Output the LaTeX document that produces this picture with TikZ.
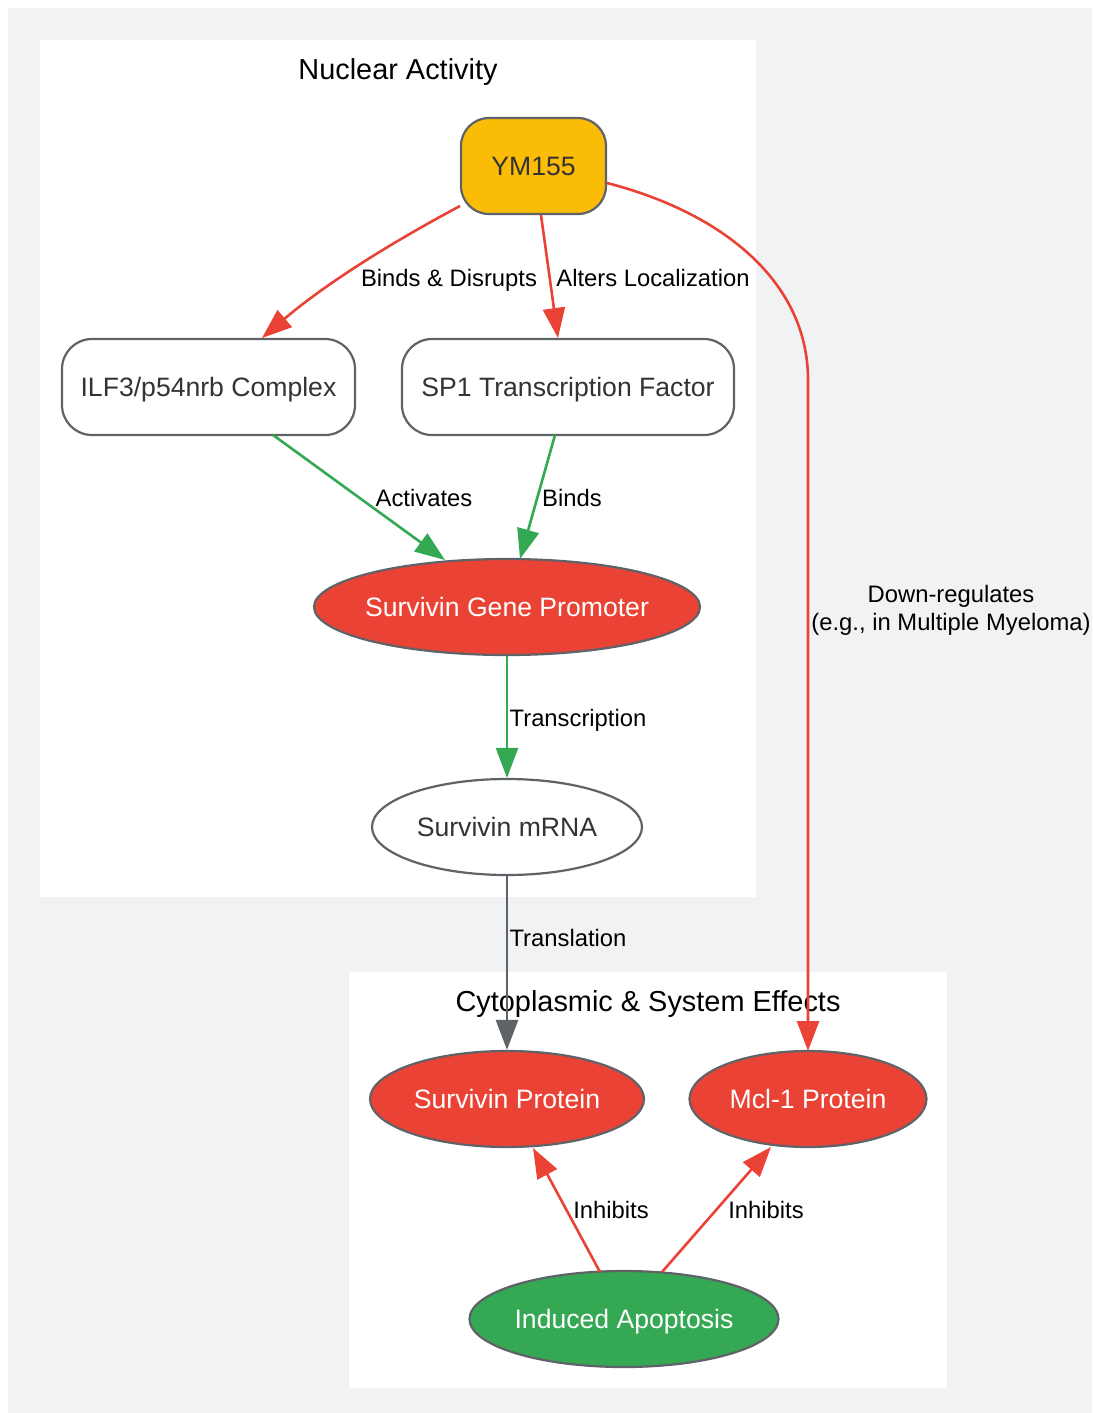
\documentclass[tikz,border=0pt]{standalone}
\usepackage{fontspec}
\setmainfont{Liberation Sans}
\usetikzlibrary{arrows.meta,shapes.geometric}
\definecolor{gred}{HTML}{EA4335}
\definecolor{ggreen}{HTML}{34A853}
\definecolor{gyellow}{HTML}{FBBC05}
\definecolor{ggray}{HTML}{5F6368}
\definecolor{bggray}{HTML}{F1F2F4}
\definecolor{txt}{HTML}{333333}
\tikzset{
  base/.style={draw=ggray, line width=2.2pt, font=\fontsize{26.6}{30}\selectfont, text=txt, inner sep=0pt, text height=19pt, text depth=0pt},
  rbox/.style={base, rounded corners=30pt, minimum height=96pt},
  oval/.style={base, ellipse, minimum height=96pt, inner xsep=-20pt},
  redfill/.style={fill=gred, text=white},
  arr/.style={line width=2.6pt, -{Triangle[length=30pt,width=22pt]}},
  elab/.style={font=\fontsize{23.8}{28}\selectfont, text=black, inner sep=0pt, text height=17pt, text depth=0pt},
  mlab/.style={font=\fontsize{23.8}{28}\selectfont, text=black, inner sep=0pt, align=center},
  ctitle/.style={font=\fontsize{28.9}{32}\selectfont, text=black, inner sep=0pt, text height=20.7pt, text depth=0pt}
}
\begin{document}
\begin{tikzpicture}[x=1pt,y=-1pt]
\useasboundingbox (0,0) rectangle (1092,1413);
\fill[bggray] (8,8) rectangle (1092,1413);
\fill[white] (40,40) rectangle (756,897);
\fill[white] (349,972) rectangle (947,1388);
\node[ctitle] (t1) at (398,69) {Nuclear Activity};
\node[ctitle] (t2) at (648,1001) {Cytoplasmic \& System Effects};

\node[rbox, fill=gyellow, minimum width=145pt, rounded corners=28pt] (ym) at (533.5,166) {YM155};
\node[rbox, fill=white, minimum width=293pt] (ilf) at (208.5,387) {ILF3/p54nrb Complex};
\node[rbox, fill=white, minimum width=332pt] (sp1) at (568,387) {SP1 Transcription Factor};
\node[oval, redfill, minimum width=386pt] (prom) at (507,607) {Survivin Gene Promoter};
\node[oval, fill=white, minimum width=270pt] (mrna) at (507,827) {Survivin mRNA};
\node[oval, redfill, minimum width=274pt] (sprot) at (507,1099) {Survivin Protein};
\node[oval, redfill, minimum width=237pt] (mcl) at (808,1099) {Mcl-1 Protein};
\node[oval, fill=ggreen, text=white, minimum width=309pt] (apop) at (624,1319) {Induced Apoptosis};

\coordinate (ymL) at (460,206);
\coordinate (ilfT) at (262,338);
\draw[arr, gred] (ymL) .. controls (400,238) and (330,280) .. (ilfT);
\node[elab] (l1) at (449,278) {Binds \& Disrupts};

\coordinate (ymB) at (541,215);
\coordinate (spT) at (558,338);
\draw[arr, gred] (ymB) -- (spT);
\node[elab] (l2) at (653,278) {Alters Localization};

\coordinate (ymR) at (607,183);
\coordinate (mclT) at (808,1051);
\draw[arr, gred] (ymR) .. controls (720,212) and (808,280) .. (808,380) -- (mclT);
\node[mlab] (l3) at (951,610) {Down-regulates\\(e.g., in Multiple Myeloma)};

\coordinate (ilfB) at (273,435);
\coordinate (promA) at (445,560);
\draw[arr, ggreen] (ilfB) -- (promA);
\node[elab] (l4) at (424,498) {Activates};

\coordinate (spB) at (555,435);
\coordinate (promB) at (520,559);
\draw[arr, ggreen] (spB) -- (promB);
\node[elab] (l5) at (572,498) {Binds};

\draw[arr, ggreen] (prom.south) -- (mrna.north);
\node[elab] (l6) at (578,718) {Transcription};

\draw[arr, ggray] (mrna.south) -- (sprot.north);
\node[elab] (l7) at (568,938) {Translation};

\coordinate (apA) at (600,1272);
\coordinate (spP) at (533,1148);
\draw[arr, gred] (apA) -- (spP);
\node[elab] (l8) at (611,1210) {Inhibits};

\coordinate (apB) at (662,1272);
\coordinate (mclB) at (771,1147);
\draw[arr, gred] (apB) -- (mclB);
\node[elab] (l9) at (766,1210) {Inhibits};
\end{tikzpicture}
\end{document}
